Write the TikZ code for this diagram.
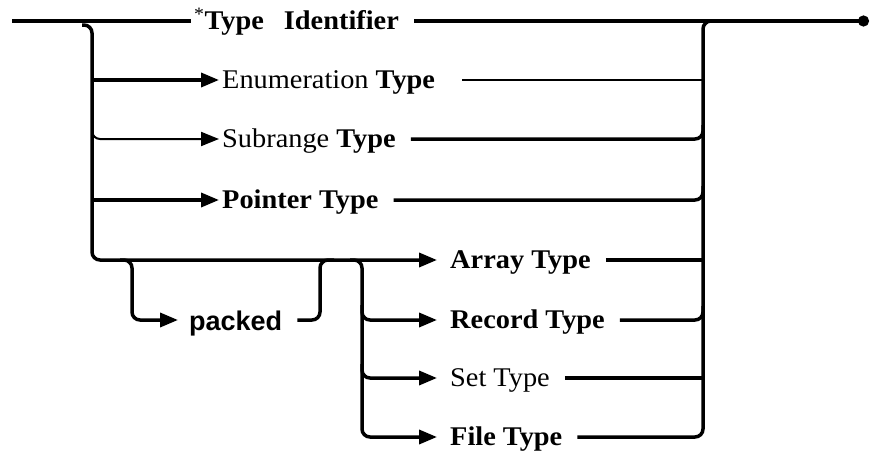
\documentclass[tikz,border=0pt]{standalone}
\usepackage{fontspec}
\usepackage{tikz}
\usetikzlibrary{arrows.meta, positioning}
\newfontfamily\rrfont[FakeStretch=1.05]{Liberation Serif}
\newfontfamily\pkfont{Liberation Sans}
\tikzstyle{arrow} = [line width=3.5pt,-{Triangle[length=18pt,width=14pt]}]

\begin{document}
\begin{tikzpicture}[
        x=1pt, y=-1pt,
        rail/.style={line width=3.5pt},
        thinrail/.style={line width=2pt},
        railbend/.style={rounded corners=8pt},
        exitline/.style={rail, shorten <=12pt},
        rrtext/.style={anchor=west, inner xsep=3pt, inner ysep=0pt, text height=17.8pt, text depth=0pt,
            font=\rrfont\bfseries\fontsize{27}{32}\selectfont}
    ]
        \useasboundingbox (0,0) rectangle (873,455);

        % Ends and bus columns
        \coordinate (start) at (12,21);
        \coordinate (finish) at (869,21);
        \coordinate (busL) at (92,0);
        \coordinate (busM) at (362,0);
        \coordinate (busR) at (703,0);
        \coordinate (loopL) at (132,0);
        \coordinate (loopR) at (320,0);

        % Type names
        \node[rrtext] (ident) at (191,21) {\textsuperscript{\mdseries*}Type\hspace{20pt}Identifier};
        \node[rrtext] (enum) at (219,80) {\mdseries Enumeration \bfseries Type};
        \node[rrtext] (subr) at (219,139) {\mdseries Subrange \bfseries Type};
        \node[rrtext] (ptr) at (219,200) {Pointer Type};
        \node[rrtext] (arr) at (447,260) {Array Type};
        \node[rrtext] (rec) at (447,320) {Record Type};
        \node[rrtext] (set) at (447,378) {\mdseries Set Type};
        \node[rrtext] (file) at (447,437) {File Type};
        \node[rrtext, text height=21pt, font=\pkfont\bfseries\fontsize{27}{32}\selectfont] (pkd) at (186,320) {packed};

        % Main line
        \draw[rail] (start) -- (ident.west);
        \draw[exitline, -{Circle[length=11pt]}] (ident.east) -- (finish);

        % Left bus
        \draw[arrow, railbend, shorten >=10pt] (82,25) -| (busL |- arr.west) -- (arr.west);
        \draw[arrow] (busL |- enum.west) -- (enum.west);
        \draw[arrow, line width=2pt, railbend] (92,124) |- (subr.west);
        \draw[arrow] (busL |- ptr.west) -- (ptr.west);

        % packed loop
        \draw[arrow, railbend, shorten >=8pt] (120,260) -| (loopL |- pkd.west) -- (pkd.west);
        \draw[exitline, railbend] (pkd.east) -| (loopR |- arr.west) -- (334,260);

        % Middle bus
        \draw[arrow, railbend, shorten >=10pt] (350,260) -| (busM |- file.west) -- (file.west);
        \draw[arrow, railbend, shorten >=10pt] (362,305) |- (rec.west);
        \draw[arrow, railbend, shorten >=10pt] (362,364) |- (set.west);

        % Right bus
        \draw[exitline, railbend] (file.east) -| (busR |- finish) -- (715,21);
        \draw[thinrail, shorten <=24pt] (enum.east) -- (enum.east -| busR);
        \draw[exitline, railbend] (subr.east) -| (703,125);
        \draw[exitline, railbend] (ptr.east) -| (703,186);
        \draw[exitline] (arr.east) -- (arr.east -| busR);
        \draw[exitline, railbend] (rec.east) -| (703,306);
        \draw[exitline] (set.east) -- (set.east -| busR);
    \end{tikzpicture}
\end{document}
